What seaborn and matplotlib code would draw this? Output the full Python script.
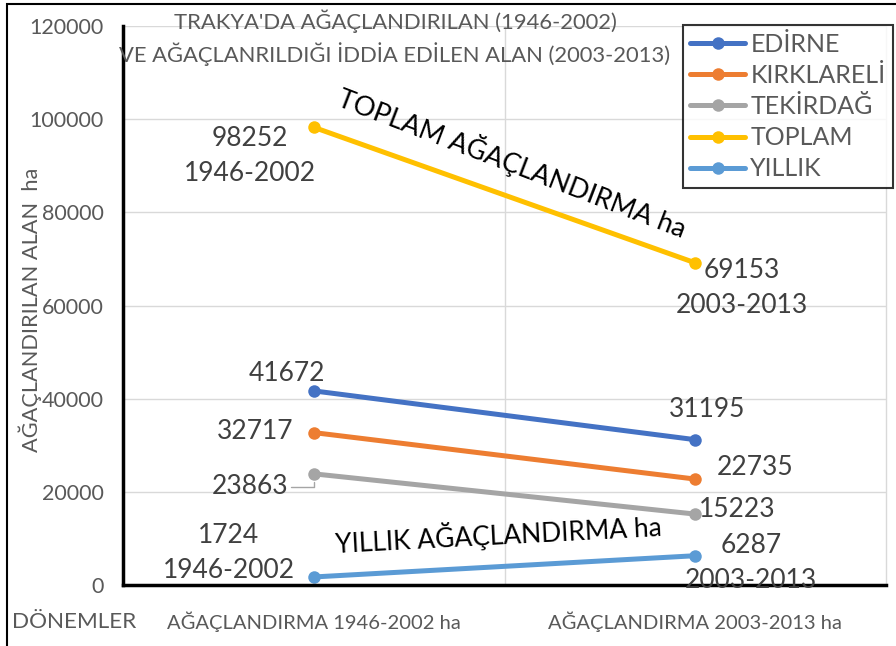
import pandas as pd
import seaborn as sns
import matplotlib.pyplot as plt
from matplotlib.patches import Rectangle

# Data
periods = ['AĞAÇLANDIRMA 1946-2002 ha', 'AĞAÇLANDIRMA 2003-2013 ha']
series = ['EDİRNE', 'KIRKLARELİ', 'TEKİRDAĞ', 'TOPLAM', 'YILLIK']
edirne = [41672, 31195]
kirklareli = [32717, 22735]
tekirdag = [23863, 15223]
toplam = [98252, 69153]
yillik = [1724, 6287]
colors = ['#4472C4', '#ED7D31', '#A5A5A5', '#FFC000', '#5B9BD5']

values = [edirne, kirklareli, tekirdag, toplam, yillik]
rows = []
for name, vals in zip(series, values):
    for p, v in zip(periods, vals):
        rows.append({'donem': p, 'alan': v, 'seri': name})
df = pd.DataFrame(rows)

sns.set_style('white')
plt.rcParams['font.family'] = ['Lato', 'DejaVu Sans']
grey = '#595959'
dark = '#404040'

fig = plt.figure(figsize=(8.96, 6.46), dpi=100)
ax = fig.add_axes([123/896, 61/646, 763/896, 559/646])

sns.lineplot(data=df, x='donem', y='alan', hue='seri', palette=colors,
             marker='o', markersize=9, markeredgewidth=0, linewidth=3.6,
             ax=ax, sort=False)

ax.set_xlim(-0.5, 1.5)
ax.set_ylim(0, 120000)
ax.set_yticks(range(0, 120001, 20000))
ax.tick_params(axis='y', labelsize=15.5, colors=grey, pad=14, length=0)
ax.tick_params(axis='x', labelsize=14.5, colors=grey, pad=19, length=0)
ax.set_xticks([0, 1])
ax.set_xticklabels(periods)
ax.set_xticks([0.5], minor=True)
ax.tick_params(axis='x', which='minor', length=0)
ax.grid(axis='y', color='#d9d9d9', linewidth=1)
ax.grid(axis='x', which='minor', color='#d9d9d9', linewidth=1)
ax.set_xlabel('')
ax.set_ylabel('')

for s in ['left', 'bottom']:
    ax.spines[s].set_color('black')
    ax.spines[s].set_linewidth(2.5)
ax.spines['top'].set_visible(False)
ax.spines['right'].set_color('#d9d9d9')
ax.spines['right'].set_linewidth(1)

# data labels
def lab(i, j, text, dx, dy, **kw):
    ax.annotate(text, xy=(j, values[i][j]), xytext=(dx, dy),
                textcoords='offset pixels', ha='center', va='center',
                fontsize=19, color=dark, linespacing=1.5, **kw)

lab(3, 0, f'{toplam[0]}\n1946-2002', -64, -29)
lab(3, 1, f'{toplam[1]}\n2003-2013', 47, -25)
lab(0, 0, f'{edirne[0]}', -27, 17)
lab(0, 1, f'{edirne[1]}', 12, 30)
lab(1, 0, f'{kirklareli[0]}', -59, 1)
lab(1, 1, f'{kirklareli[1]}', 60, 12)
lab(2, 0, f'{tekirdag[0]}', -64, -13,
    arrowprops=dict(arrowstyle='-', color='#a5a5a5', lw=1,
                    shrinkA=34, shrinkB=6, connectionstyle='angle,angleA=0,angleB=90,rad=0'))
lab(2, 1, f'{tekirdag[1]}', 42, 5)
lab(4, 0, f'{yillik[0]}\n1946-2002', -85, 24)
lab(4, 1, f'{yillik[1]}\n2003-2013', 56, -7)

# series annotations
ax.annotate('TOPLAM AĞAÇLANDIRMA ha', xy=(0.5, (toplam[0] + toplam[1]) / 2),
            xytext=(8, 33), textcoords='offset pixels', ha='center', va='center',
            fontsize=19.5, color='black', rotation=-21)
ax.annotate('YILLIK AĞAÇLANDIRMA ha', xy=(0.5, (yillik[0] + yillik[1]) / 2),
            xytext=(-6, 32), textcoords='offset pixels', ha='center', va='center',
            fontsize=19, color='black', rotation=3)

# legend
handles, labels = ax.get_legend_handles_labels()
ax.legend_.remove()
leg = fig.legend(handles, labels, loc='upper right', bbox_to_anchor=(893/896, 1 - 25/646),
                 fontsize=18, frameon=True, fancybox=False, edgecolor='black',
                 handlelength=2.2, handletextpad=0.2, labelspacing=0.33,
                 borderpad=0.3, borderaxespad=0)
leg.get_frame().set_linewidth(1.5)
for t in leg.get_texts():
    t.set_color(grey)

# titles and axis labels
fig.text(395/896, 1 - 38/646,
         "TRAKYA'DA AĞAÇLANDIRILAN (1946-2002)\nVE AĞAÇLANRILDIĞI İDDİA EDİLEN ALAN (2003-2013)",
         ha='center', va='center', fontsize=15.8, color=grey, linespacing=1.45)
fig.text(30/896, 1 - 310/646, 'AĞAÇLANDIRILAN ALAN  ha', rotation=90,
         ha='center', va='center', fontsize=15.7, color=grey)
fig.text(12/896, 1 - 622/646, 'DÖNEMLER', ha='left', va='center',
         fontsize=16.2, color=grey)

# outer frame
fig.patches.append(Rectangle((7/896, -0.05), 1.2, 0.05 + 1 - 4/646,
                             transform=fig.transFigure, fill=False,
                             edgecolor='black', linewidth=1.5))

fig.savefig('out.png', dpi=100)
